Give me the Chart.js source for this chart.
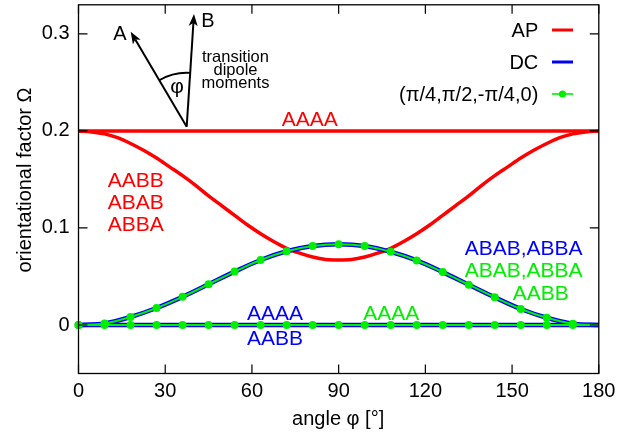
<!DOCTYPE html>
<html><head><meta charset="utf-8">
<script src="https://cdn.jsdelivr.net/npm/chart.js@4/dist/chart.umd.min.js"></script>
<style>html,body{margin:0;padding:0;background:#fff;}canvas{display:block;}</style>
</head><body>
<canvas id="c" width="641" height="437"></canvas>
<script>
// ---- data ----
const angles  = [0,9,18,27,36,45,54,63,72,81,90,99,108,117,126,135,144,153,162,171,180];
const anglesFine = [0,4.5,9,13.5,18,22.5,27,31.5,36,40.5,45,49.5,54,58.5,63,67.5,72,76.5,81,85.5,90,
                    94.5,99,103.5,108,112.5,117,121.5,126,130.5,135,139.5,144,148.5,153,157.5,162,166.5,171,175.5,180];
const apAAAA  = [0.2,0.2,0.2,0.2,0.2,0.2,0.2,0.2,0.2,0.2,0.2,0.2,0.2,0.2,0.2,0.2,0.2,0.2,0.2,0.2,0.2];
const apAABB  = [0.200,0.199,0.197,0.193,0.187,0.180,0.172,0.163,0.154,0.144,0.133,0.123,0.113,0.103,0.094,0.086,0.079,0.074,0.070,0.0675,0.067,
                 0.0675,0.070,0.074,0.079,0.086,0.094,0.103,0.113,0.123,0.133,0.144,0.154,0.163,0.172,0.180,0.187,0.193,0.197,0.199,0.200];
const dcAAAA  = [0,0,0,0,0,0,0,0,0,0,0,0,0,0,0,0,0,0,0,0,0];
const dcABAB  = [0,0.0015,0.0082,0.0175,0.029,0.042,0.055,0.067,0.076,0.0815,0.0833,0.0815,0.0755,0.0665,0.0545,0.0415,0.0285,0.0165,0.0075,0.0014,0];
const ptAAAA  = [0,0,0,0,0,0,0,0,0,0,0,0,0,0,0,0,0,0,0,0,0];
const ptABAB  = [0,0.0015,0.0082,0.0175,0.029,0.042,0.055,0.067,0.076,0.0815,0.0833,0.0815,0.0755,0.0665,0.0545,0.0415,0.0285,0.0165,0.0075,0.0014,0];
const xTicks  = [0,30,60,90,120,150,180];
const yTicks  = [0,0.1,0.2,0.3];
const seriesNames = ['AP','DC','(π/4,π/2,-π/4,0)'];
const xTitle = 'angle φ [°]';
const yTitle = 'orientational factor Ω';

// ---- styles ----
const RED = '#ff0000', BLUE = '#0000ff', GREEN = '#00ee00';
const FONT = '"Liberation Sans", Arial, Helvetica, sans-serif';

const pts = (arr, xs = angles) => arr.map((v,i)=>({x:xs[i], y:v}));
const dotR = arr => arr.map((v,i)=> i === arr.length-1 ? 0 : 4);

const notes = [
  {t:'AAAA', x:79.98, y:0.2133, c:RED},
  {t:'AABB', x:19.82, y:0.1502, c:RED},
  {t:'ABAB', x:19.82, y:0.1272, c:RED},
  {t:'ABBA', x:19.82, y:0.1042, c:RED},
  {t:'AAAA', x:67.98, y:0.0131, c:BLUE},
  {t:'AABB', x:67.98, y:-0.0130, c:BLUE},
  {t:'AAAA', x:108.18, y:0.0131, c:GREEN},
  {t:'ABAB,ABBA', x:154.0, y:0.0801, c:BLUE},
  {t:'ABAB,ABBA', x:154.0, y:0.0569, c:GREEN},
  {t:'AABB', x:159.93, y:0.0337, c:GREEN}
];

function arrow(ctx, x0, y0, x1, y1){
  ctx.beginPath(); ctx.moveTo(x0,y0);
  const ang = Math.atan2(y1-y0, x1-x0);
  const L = 12, W = 4.5, N = 9;
  ctx.lineTo(x1 - Math.cos(ang)*N, y1 - Math.sin(ang)*N);
  ctx.stroke();
  ctx.beginPath();
  ctx.moveTo(x1,y1);
  ctx.lineTo(x1 - Math.cos(ang)*L + Math.sin(ang)*W, y1 - Math.sin(ang)*L - Math.cos(ang)*W);
  ctx.lineTo(x1 - Math.cos(ang)*N, y1 - Math.sin(ang)*N);
  ctx.lineTo(x1 - Math.cos(ang)*L - Math.sin(ang)*W, y1 - Math.sin(ang)*L + Math.cos(ang)*W);
  ctx.closePath(); ctx.fill();
}

const deco = {
  id:'deco',
  afterDatasetsDraw(chart){
    const {ctx, chartArea:a, scales:{x, y}} = chart;
    ctx.save();
    // frame
    ctx.strokeStyle = '#000'; ctx.lineWidth = 1.3;
    ctx.strokeRect(a.left, a.top, a.right-a.left, a.bottom-a.top);
    // inward ticks (mirrored)
    ctx.lineWidth = 1.2; ctx.beginPath();
    xTicks.forEach(v=>{const p=x.getPixelForValue(v);
      ctx.moveTo(p,a.bottom); ctx.lineTo(p,a.bottom-9);
      ctx.moveTo(p,a.top); ctx.lineTo(p,a.top+9);});
    yTicks.forEach(v=>{const p=y.getPixelForValue(v);
      ctx.moveTo(a.left,p); ctx.lineTo(a.left+9,p);
      ctx.moveTo(a.right,p); ctx.lineTo(a.right-9,p);});
    ctx.stroke();

    // curve labels
    ctx.font = '21px ' + FONT; ctx.textAlign = 'center'; ctx.textBaseline = 'alphabetic';
    notes.forEach(n=>{ ctx.fillStyle = n.c;
      ctx.fillText(n.t, x.getPixelForValue(n.x), y.getPixelForValue(n.y) + 0.358*21); });

    // legend
    const colors = [RED, BLUE, GREEN];
    ctx.font = '20px ' + FONT; ctx.textAlign = 'right';
    seriesNames.forEach((s,i)=>{
      const cy = a.top + 25.2 + i*32;
      ctx.fillStyle = '#000';
      ctx.fillText(s, a.right - 60.5, cy + 0.358*20);
      ctx.strokeStyle = colors[i]; ctx.lineWidth = i===2 ? 1.6 : 3;
      ctx.beginPath(); ctx.moveTo(a.right-46.8, cy); ctx.lineTo(a.right-25.8, cy); ctx.stroke();
      if (i===2){ ctx.fillStyle = GREEN; ctx.beginPath();
        ctx.arc(a.right-36.3, cy, 3.6, 0, Math.PI*2); ctx.fill(); }
    });

    // transition dipole moment sketch
    const ox = x.getPixelForValue(37.43), oy = y.getPixelForValue(0.2043);
    ctx.strokeStyle = '#000'; ctx.fillStyle = '#000'; ctx.lineWidth = 2;
    const A = [ox-56, oy-95], B = [ox+7.3, oy-112.7];
    arrow(ctx, ox, oy, A[0], A[1]);
    arrow(ctx, ox, oy, B[0], B[1]);
    ctx.beginPath();
    ctx.arc(ox, oy, 54, Math.atan2(-95,-56), Math.atan2(-112.7,7.3), false);
    ctx.stroke();
    ctx.font = '20px ' + FONT; ctx.textAlign = 'center';
    ctx.fillText('A', ox-66.7, oy-93.7+7.2);
    ctx.fillText('B', ox+21.3, oy-107.2+7.2);
    ctx.font = '21px ' + FONT;
    ctx.fillText('φ', ox-9.7, oy-39.7+6.3);
    ctx.font = '16.5px ' + FONT;
    ctx.fillText('transition', ox+48.8, oy-65);
    ctx.fillText('dipole', ox+48.8, oy-52.2);
    ctx.fillText('moments', ox+48.8, oy-38.4);

    // axis titles
    ctx.font = '20px ' + FONT; ctx.fillStyle = '#000';
    ctx.fillText(xTitle, (a.left+a.right)/2 - 0.5, 425);
    ctx.save(); ctx.translate(30.5, 180); ctx.rotate(-Math.PI/2);
    ctx.fillText(yTitle, 0, 0); ctx.restore();
    ctx.restore();
  }
};

function noPad(s){ s.paddingTop = 0; s.paddingBottom = 0; s.paddingLeft = 0; s.paddingRight = 0; }

new Chart(document.getElementById('c'), {
  type:'line',
  data:{ datasets:[
    {label:seriesNames[0], data:pts(apAAAA), borderColor:RED, borderWidth:3.5, pointRadius:0, order:3, clip:false},
    {label:seriesNames[0], data:pts(apAABB, anglesFine), borderColor:RED, borderWidth:3.5, pointRadius:0, cubicInterpolationMode:'monotone', order:3, clip:false},
    {label:seriesNames[1], data:pts(dcAAAA), borderColor:BLUE, borderWidth:4.5, pointRadius:0, order:2, clip:false},
    {label:seriesNames[1], data:pts(dcABAB), borderColor:BLUE, borderWidth:4.5, pointRadius:0, cubicInterpolationMode:'monotone', order:2, clip:false},
    {label:seriesNames[2], data:pts(ptAAAA), borderColor:GREEN, borderWidth:2, pointRadius:dotR(ptAAAA), pointBackgroundColor:GREEN, pointBorderWidth:0, order:1, clip:false},
    {label:seriesNames[2], data:pts(ptABAB), borderColor:GREEN, borderWidth:2, pointRadius:dotR(ptABAB), pointBackgroundColor:GREEN, pointBorderWidth:0, cubicInterpolationMode:'monotone', order:1, clip:false}
  ]},
  options:{
    responsive:false, animation:false, devicePixelRatio:1,
    layout:{padding:{top:4.8, right:42.2, left:0, bottom:0}},
    plugins:{legend:{display:false}, tooltip:{enabled:false}},
    events:[],
    scales:{
      x:{type:'linear', min:0, max:180,
        afterBuildTicks: s => { s.ticks = xTicks.map(v=>({value:v})); },
        afterFit: s => { s.height = 63.5; noPad(s); },
        grid:{display:false, drawTicks:false}, border:{display:false},
        ticks:{color:'#000', padding:6, font:{family:FONT, size:20}}},
      y:{type:'linear', min:-0.05, max:0.33,
        afterBuildTicks: s => { s.ticks = yTicks.map(v=>({value:v})); },
        afterFit: s => { s.width = 78.5; noPad(s); },
        grid:{display:false, drawTicks:false}, border:{display:false},
        ticks:{color:'#000', padding:9, font:{family:FONT, size:20}}}
    }
  },
  plugins:[deco]
});
</script>
</body></html>
